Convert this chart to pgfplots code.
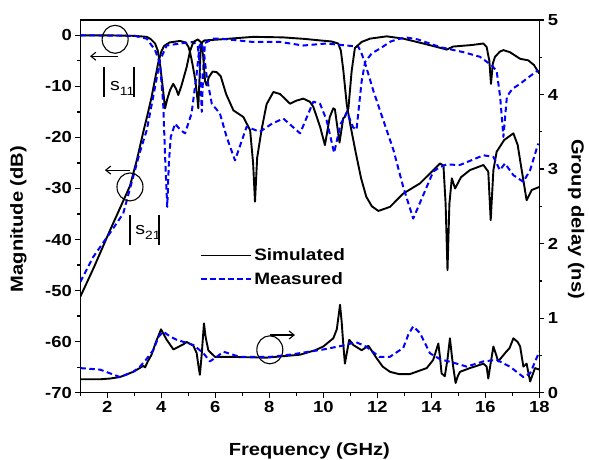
\documentclass[border=0pt]{standalone}
\usepackage{fontspec}
\setmainfont{Liberation Sans}[FakeStretch=1.15]
\usepackage{pgfplots}
\pgfplotsset{compat=1.18}
\usetikzlibrary{arrows.meta}
\definecolor{mblue}{RGB}{0,0,255}
\pgfplotsset{
  sim/.style={black, line width=1.9pt, line join=round},
  meas/.style={mblue, line width=2pt, dash pattern=on 5.5pt off 3.5pt, line join=round},
}
\begin{document}
\begin{tikzpicture}
\useasboundingbox (0,0) rectangle (589pt,459pt);
\begin{axis}[
  at={(80.3pt,66.3pt)}, anchor=south west,
  width=459pt, height=372.7pt, scale only axis,
  xmin=1, xmax=18, ymin=-70, ymax=3,
  xtick={2,4,...,18}, minor xtick={1,3,...,17},
  ytick={-70,-60,...,0}, minor ytick={-65,-55,...,-5},
  xtick pos=bottom, ytick pos=left, tick align=outside,
  major tick length=5pt, minor tick length=3pt,
  axis line style={line width=1.4pt},
  every tick/.style={black, line width=1.3pt},
  tick label style={font=\fontsize{16}{16}\selectfont\bfseries},
  /pgf/number format/assume math mode=true,
  xlabel={Frequency (GHz)}, ylabel={Magnitude (dB)},
  label style={font=\fontsize{17.5}{17.5}\selectfont\bfseries},
  xlabel style={at={(axis description cs:0.499,-0.156)}, anchor=center},
  ylabel style={at={(axis description cs:-0.135,0.466)}, anchor=center, rotate=0},
  legend style={at={(axis description cs:0.261,0.392)}, anchor=north west, draw=none, fill=none,
    font=\fontsize{16.5}{16.5}\selectfont\bfseries, row sep=6pt, inner sep=0pt},
  legend cell align=left,
  legend image code/.code={\draw[#1] (0pt,0pt) -- (50pt,0pt);},
]
% Simulated S21
\addplot[sim] coordinates {
(1,-51.2) (1.5,-45.5) (2.1,-38.2) (2.5,-33.5) (2.84,-29.5) (3.1,-24.3) (3.33,-19) (3.5,-15.3) (3.64,-12.1) (3.77,-8.5) (3.89,-5.3) (4.0,-3.2) (4.1,-2.1) (4.3,-1.4) (4.69,-1.1) (4.9,-1.4) (5.0,-2.2) (5.06,-3.2) (5.15,-5.5) (5.25,-8.5) (5.32,-11.5) (5.37,-14.3) (5.41,-9) (5.46,-2.5) (5.52,-1.3) (5.6,-1.0) (6.18,-0.8) (7.4,-0.3) (8.5,-0.4) (9.3,-0.7) (9.88,-1.0) (10.3,-1.2) (10.55,-1.6) (10.65,-3) (10.74,-6.8) (10.87,-13.6) (11.0,-17.5) (11.21,-23.2) (11.4,-28) (11.59,-31.6) (11.8,-33.5) (12.04,-34.4) (12.47,-33.6) (12.96,-31) (13.58,-29) (14.0,-26.8) (14.32,-25.1) (14.45,-25.5) (14.53,-33) (14.6,-46) (14.67,-33) (14.76,-28) (14.88,-30) (15.1,-27.8) (15.43,-26.4) (15.93,-25.4) (16.11,-26.7) (16.2,-36.2) (16.3,-26.4) (16.42,-22.8) (16.7,-20.5) (17.04,-19.2) (17.2,-21.5) (17.29,-24.5) (17.53,-32.3) (17.72,-30.3) (18,-29.7)
};
\addlegendentry{Simulated}
% Measured S21
\addplot[meas] coordinates {
(1,-48.3) (1.48,-43.4) (2.22,-37.8) (2.59,-34.9) (2.96,-27.7) (3.2,-23) (3.46,-18.6) (3.77,-10.1) (3.95,-4.9) (4.2,-2.0) (4.69,-1.6) (5.19,-1.3) (5.35,-2) (5.43,-6) (5.5,-15) (5.56,-6) (5.62,-1.5) (5.93,-0.65) (6.18,-0.65) (7.4,-1.3) (8.4,-1.3) (9.26,-2) (10.12,-1.6) (10.86,-2) (11.29,-2.2) (11.4,-3.3) (11.55,-5.5) (11.85,-10.8) (12.22,-16.6) (12.6,-22.5) (12.96,-29.7) (13.33,-35.9) (13.83,-29.7) (14.07,-26.7) (14.32,-25.8) (14.57,-25.3) (15.06,-25.4) (15.93,-23.5) (16.3,-23.8) (16.54,-26.4) (16.73,-25.1) (17.04,-27.4) (17.41,-28.7) (17.66,-26.4) (17.96,-21.2)
};
\addlegendentry{Measured}
% Simulated S11
\addplot[sim, forget plot] coordinates {
(1,0) (2,0) (3,-0.1) (3.46,-0.3) (3.6,-0.7) (3.77,-1.6) (3.87,-3) (3.95,-5.5) (4.05,-10) (4.14,-14.3) (4.22,-12.5) (4.32,-10.8) (4.44,-9.5) (4.55,-10.5) (4.63,-11.7) (4.75,-9.8) (4.94,-6.2) (5.06,-3.2) (5.15,-1.8) (5.22,-1.2) (5.35,-0.8) (5.46,-1.3) (5.55,-4) (5.62,-9) (5.68,-9.8) (5.76,-8.2) (5.9,-7.1) (6.05,-7.2) (6.2,-8) (6.4,-11.5) (6.67,-14.7) (7.04,-16) (7.29,-18.6) (7.4,-25) (7.47,-32.6) (7.55,-24) (7.72,-18.3) (7.9,-13.5) (8.15,-11.1) (8.4,-11.5) (8.77,-13.4) (9.0,-12.8) (9.26,-12.4) (9.5,-13) (9.63,-14) (9.88,-17.9) (10.06,-21.5) (10.24,-16) (10.37,-14.3) (10.43,-14.5) (10.6,-21) (10.74,-16.2) (10.8,-16) (10.93,-14.3) (11.05,-7) (11.17,-2.5) (11.42,-1.3) (11.73,-0.65) (12.35,-0.2) (12.96,-0.65) (13.7,-1.6) (14.44,-2.6) (14.57,-2.8) (14.81,-2.2) (15.5,-1.9) (15.93,-1.6) (16.05,-2.3) (16.15,-5) (16.21,-9.5) (16.28,-5.5) (16.36,-4.2) (16.54,-3.2) (16.67,-2.9) (16.91,-3.3) (17.29,-4.6) (17.59,-4.9) (17.8,-5.8) (18,-7.5)
};
% Measured S11
\addplot[meas, forget plot] coordinates {
(1,0) (3,-0.1) (3.46,-0.65) (3.77,-2.9) (3.95,-5.5) (4.07,-13.4) (4.15,-25) (4.22,-33.6) (4.28,-25) (4.35,-19.9) (4.51,-17.3) (4.7,-18.5) (4.88,-19.2) (5.12,-15.3) (5.3,-8) (5.42,-2) (5.5,-1.5) (5.58,-3.5) (5.68,-8) (5.87,-13.4) (6.17,-15.3) (6.42,-19.9) (6.73,-24.5) (7.16,-17.9) (7.65,-18.9) (8.1,-17.3) (8.52,-16.3) (9.14,-19.2) (9.63,-13) (9.88,-13.4) (10.12,-16.6) (10.4,-23) (10.64,-17.4) (10.88,-15) (11.1,-18) (11.23,-18.5) (11.3,-15) (11.42,-9) (11.55,-5.2) (11.8,-3.5) (12.1,-2.6) (12.5,-1.2) (12.84,-0.65) (13.1,-0.45) (13.5,-0.8) (14.32,-2.3) (15.19,-3.3) (15.8,-4.2) (16.24,-5.9) (16.42,-7) (16.55,-12) (16.67,-19.9) (16.8,-12) (17.0,-10.5) (17.29,-9.5) (17.53,-8.5) (17.96,-6.8)
};
% annotations
\draw[line width=1.1pt] (axis cs:2.29,-0.78) ellipse [x radius=13pt, y radius=14pt];
\draw[line width=1.1pt, -{Straight Barb[length=5pt,width=8pt]}] (axis cs:2.40,-4.1) -- (axis cs:1.36,-4.1);
\draw[line width=1.1pt] (axis cs:2.84,-29.7) ellipse [x radius=13pt, y radius=14pt];
\draw[line width=1.1pt, -{Straight Barb[length=5pt,width=8pt]}] (axis cs:2.84,-26.4) -- (axis cs:1.91,-26.4);
\draw[line width=1.1pt] (axis cs:8.02,-61.6) ellipse [x radius=13pt, y radius=14pt];
\draw[line width=1.1pt, -{Straight Barb[length=5pt,width=8pt]}] (axis cs:8.02,-58.7) -- (axis cs:8.95,-58.7);
\draw[line width=1.4pt] (axis cs:1.878,-6.2) -- (axis cs:1.878,-12.07);
\draw[line width=1.4pt] (axis cs:2.989,-6.2) -- (axis cs:2.989,-12.07);
\node[anchor=base west, inner sep=0pt, font=\fontsize{17}{17}\selectfont] at (axis cs:2.1,-10.9) {s\raisebox{-5pt}{\fontsize{12}{12}\selectfont 11}};
\draw[line width=1.4pt] (axis cs:2.844,-35.2) -- (axis cs:2.844,-41.1);
\draw[line width=1.4pt] (axis cs:3.915,-35.2) -- (axis cs:3.915,-41.1);
\node[anchor=base west, inner sep=0pt, font=\fontsize{17}{17}\selectfont] at (axis cs:3.03,-39.1) {s\raisebox{-5pt}{\fontsize{12}{12}\selectfont 21}};
\end{axis}
\begin{axis}[
  at={(80.3pt,66.3pt)}, anchor=south west,
  width=459pt, height=372.7pt, scale only axis,
  xmin=1, xmax=18, ymin=0, ymax=5,
  axis x line=none, axis y line*=right,
  ytick={0,1,...,5}, minor ytick={0.5,1.5,...,4.5},
  tick align=outside,
  major tick length=5pt, minor tick length=3pt,
  axis line style={line width=1.4pt, -},
  every tick/.style={black, line width=1.3pt},
  tick label style={font=\fontsize{16}{16}\selectfont\bfseries},
  /pgf/number format/assume math mode=true,
  ylabel={Group delay (ns)},
  label style={font=\fontsize{17.5}{17.5}\selectfont\bfseries},
  ylabel style={at={(axis description cs:1.080,0.466)}, anchor=center, rotate=180},
]
% Simulated group delay
\addplot[sim] coordinates {
(1,0.18) (1.73,0.18) (2.1,0.19) (2.47,0.21) (2.96,0.28) (3.2,0.33) (3.33,0.36) (3.4,0.34) (3.5,0.42) (3.64,0.51) (3.8,0.68) (3.99,0.85) (4.2,0.71) (4.45,0.58) (4.82,0.65) (4.94,0.68) (5.19,0.63) (5.31,0.53) (5.38,0.35) (5.43,0.24) (5.5,0.53) (5.58,0.93) (5.64,0.75) (5.74,0.57) (5.99,0.48) (6.67,0.48) (7.9,0.47) (9.14,0.51) (9.7,0.57) (10.0,0.62) (10.37,0.73) (10.5,0.85) (10.62,1.18) (10.68,0.95) (10.74,0.65) (10.8,0.39) (10.88,0.55) (10.96,0.71) (11.11,0.64) (11.42,0.57) (11.67,0.63) (11.98,0.46) (12.2,0.35) (12.47,0.28) (12.8,0.25) (13.21,0.25) (13.83,0.33) (14.07,0.44) (14.26,0.66) (14.33,0.45) (14.38,0.26) (14.5,0.22) (14.6,0.45) (14.69,0.73) (14.76,0.5) (14.81,0.35) (14.9,0.13) (14.98,0.22) (15.06,0.28) (15.43,0.33) (15.93,0.39) (16.05,0.35) (16.11,0.19) (16.2,0.4) (16.3,0.62) (16.48,0.42) (16.73,0.53) (16.9,0.6) (17.04,0.73) (17.2,0.68) (17.29,0.62) (17.41,0.35) (17.53,0.39) (17.66,0.15) (17.84,0.33) (18,0.31)
};
% Measured group delay
\addplot[meas] coordinates {
(1,0.33) (1.73,0.31) (2.1,0.26) (2.47,0.21) (2.96,0.28) (3.21,0.35) (3.45,0.45) (3.7,0.57) (3.9,0.75) (4.07,0.82) (4.3,0.76) (4.57,0.71) (5.19,0.64) (5.56,0.53) (5.8,0.42) (6.05,0.48) (6.3,0.55) (6.91,0.48) (8.02,0.48) (8.77,0.51) (10,0.58) (10.83,0.64) (11.2,0.68) (11.58,0.62) (12.08,0.48) (12.46,0.48) (12.96,0.6) (13.15,0.78) (13.33,0.89) (13.58,0.8) (13.95,0.53) (14.32,0.45) (14.94,0.39) (15.31,0.35) (15.93,0.42) (16.42,0.44) (16.91,0.35) (17.41,0.21) (17.66,0.26) (18,0.55)
};
\end{axis}
\end{tikzpicture}
\end{document}
